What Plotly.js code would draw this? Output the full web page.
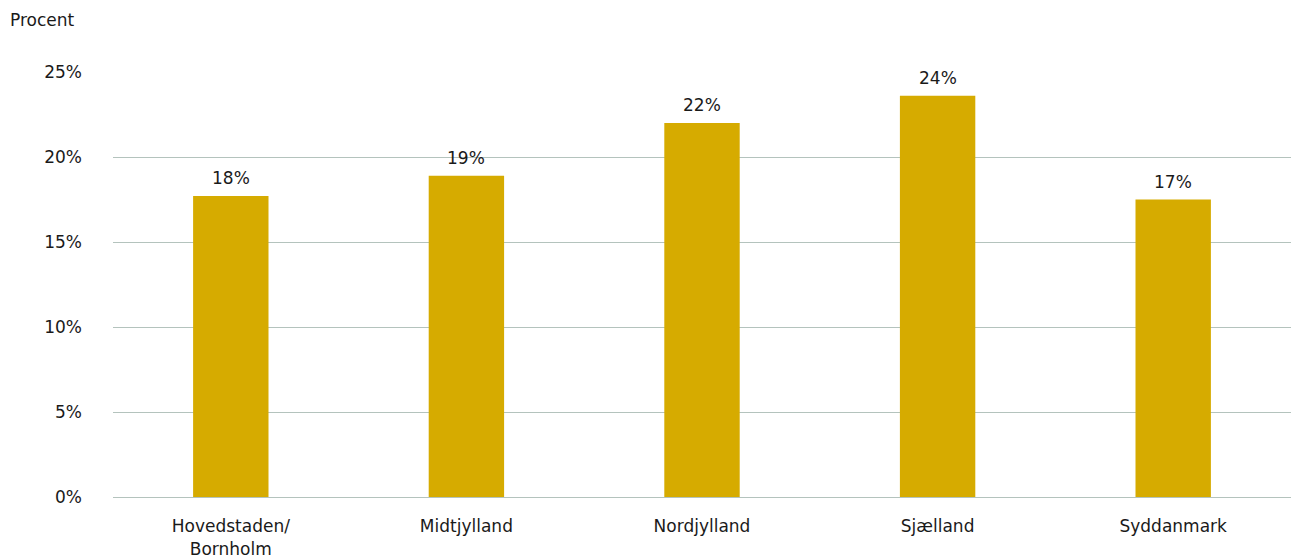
<!DOCTYPE html>
<html>
<head>
<meta charset="utf-8">
<script src="https://cdn.plot.ly/plotly-3.0.1.min.js"></script>
<style>html,body{margin:0;padding:0;background:#fff;}#chart{width:1291px;height:559px;}</style>
</head>
<body>
<div id="chart"></div>
<script>
const categories = ["Hovedstaden/<br>Bornholm", "Midtjylland", "Nordjylland", "Sjælland", "Syddanmark"];
const values = [17.7, 18.9, 22.0, 23.6, 17.5];
const labels = ["18%", "19%", "22%", "24%", "17%"];
const yTicks = [0, 5, 10, 15, 20, 25];

const FONT = "DejaVu Sans, sans-serif";
const TXT = "#1a1a1a";
const SIZE = 17;

const trace = {
  type: "bar",
  x: categories,
  y: values,
  cliponaxis: false,
  marker: {color: "#d6ab00"},
  hoverinfo: "none"
};

const valueLabels = categories.map((c, i) => ({
  x: c, y: values[i], xref: "x", yref: "y",
  text: labels[i],
  showarrow: false,
  yanchor: "bottom",
  yshift: 6,
  font: {family: FONT, size: SIZE, color: TXT}
}));

const layout = {
  width: 1291,
  height: 559,
  margin: {l: 113, r: 0, t: 72, b: 62},
  paper_bgcolor: "#fff",
  plot_bgcolor: "#fff",
  bargap: 0.68,
  showlegend: false,
  font: {family: FONT, size: SIZE, color: TXT},
  xaxis: {
    type: "category",
    showgrid: false,
    showline: true,
    linecolor: "#b4c3bd",
    linewidth: 1,
    ticks: "",
    ticklabelstandoff: 14,
    tickfont: {family: FONT, size: SIZE, color: TXT}
  },
  yaxis: {
    range: [0, 25],
    tickvals: yTicks,
    ticktext: yTicks.map(v => v + "%"),
    showgrid: true,
    gridcolor: "#b4c3bd",
    gridwidth: 1,
    zeroline: false,
    showline: false,
    ticks: "",
    ticklabelstandoff: 30,
    tickfont: {family: FONT, size: SIZE, color: TXT}
  },
  annotations: valueLabels.concat([{
    text: "Procent",
    xref: "paper", yref: "paper",
    x: -113/1178 + 8/1178, y: 1 + (72-20)/425,
    xanchor: "left", yanchor: "middle",
    showarrow: false,
    font: {family: FONT, size: SIZE, color: TXT}
  }])
};

Plotly.newPlot("chart", [trace], layout, {displayModeBar: false, staticPlot: true});
</script>
</body>
</html>
